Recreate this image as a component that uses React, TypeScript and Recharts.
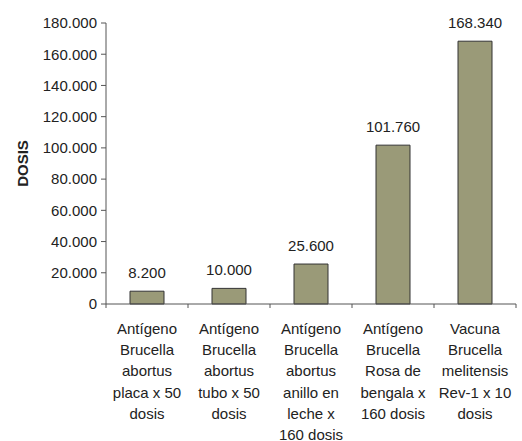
import React from 'react';
import { BarChart, Bar, XAxis, YAxis, LabelList } from 'recharts';

const categoryLines: string[][] = [
  ['Antígeno', 'Brucella', 'abortus', 'placa x 50', 'dosis'],
  ['Antígeno', 'Brucella', 'abortus', 'tubo x 50', 'dosis'],
  ['Antígeno', 'Brucella', 'abortus', 'anillo en', 'leche x', '160 dosis'],
  ['Antígeno', 'Brucella', 'Rosa de', 'bengala x', '160 dosis'],
  ['Vacuna', 'Brucella', 'melitensis', 'Rev-1 x 10', 'dosis'],
];
const dosisValues: number[] = [8200, 10000, 25600, 101760, 168340];
const yTicks: number[] = [0, 20000, 40000, 60000, 80000, 100000, 120000, 140000, 160000, 180000];

const data = categoryLines.map((lines, i) => ({ key: String(i), value: dosisValues[i] }));

const FONT = 'Liberation Sans, Arial, sans-serif';
const fmt = (v: number) => String(v).replace(/\B(?=(\d{3})+(?!\d))/g, '.');

const XTick = (props: any) => {
  const { x, y, index, width, visibleTicksCount } = props;
  const band = width / visibleTicksCount;
  const lines = categoryLines[index] || [];
  return (
    <g>
      <line x1={x - band / 2} x2={x - band / 2} y1={y - 8} y2={y - 4} stroke="#555" />
      {index === visibleTicksCount - 1 && (
        <line x1={x + band / 2} x2={x + band / 2} y1={y - 8} y2={y - 4} stroke="#555" />
      )}
      <text x={x} y={y} textAnchor="middle" fontFamily={FONT} fontSize={15} fill="#222">
        {lines.map((l, i) => (
          <tspan key={i} x={x} y={y + 22 + i * 21.2}>
            {l}
          </tspan>
        ))}
      </text>
    </g>
  );
};

const YLabel = (props: any) => {
  const { viewBox } = props;
  const cy = viewBox.y + viewBox.height / 2;
  const cx = 22;
  return (
    <text
      x={cx}
      y={cy}
      transform={`rotate(-90 ${cx} ${cy})`}
      textAnchor="middle"
      dominantBaseline="central"
      fontFamily={FONT}
      fontSize={15}
      fontWeight="bold"
      fill="#222"
    >
      DOSIS
    </text>
  );
};

export default function App() {
  return (
    <div style={{ position: 'absolute', left: 0, top: 0, background: '#fff' }}>
      <BarChart
        width={522}
        height={441}
        data={data}
        margin={{ top: 23, right: 6, bottom: 0, left: 0 }}
      >
        <XAxis
          dataKey="key"
          height={137}
          axisLine={{ stroke: '#555' }}
          tickLine={false}
          tick={<XTick />}
          interval={0}
        />
        <YAxis
          width={106}
          domain={[0, 180000]}
          ticks={yTicks}
          interval={0}
          axisLine={{ stroke: '#555' }}
          tickLine={{ stroke: '#555' }}
          tickSize={5}
          tickMargin={4}
          tickFormatter={fmt}
          tick={{ fontFamily: FONT, fontSize: 15, fill: '#222' }}
          label={<YLabel />}
        />
        <Bar
          dataKey="value"
          fill="#9a9a78"
          stroke="#333"
          strokeWidth={1}
          barSize={34}
          isAnimationActive={false}
        >
          <LabelList
            dataKey="value"
            position="top"
            offset={13}
            formatter={(v: any) => fmt(Number(v))}
            style={{ fontFamily: FONT, fontSize: 15, fill: '#222' }}
          />
        </Bar>
      </BarChart>
    </div>
  );
}
